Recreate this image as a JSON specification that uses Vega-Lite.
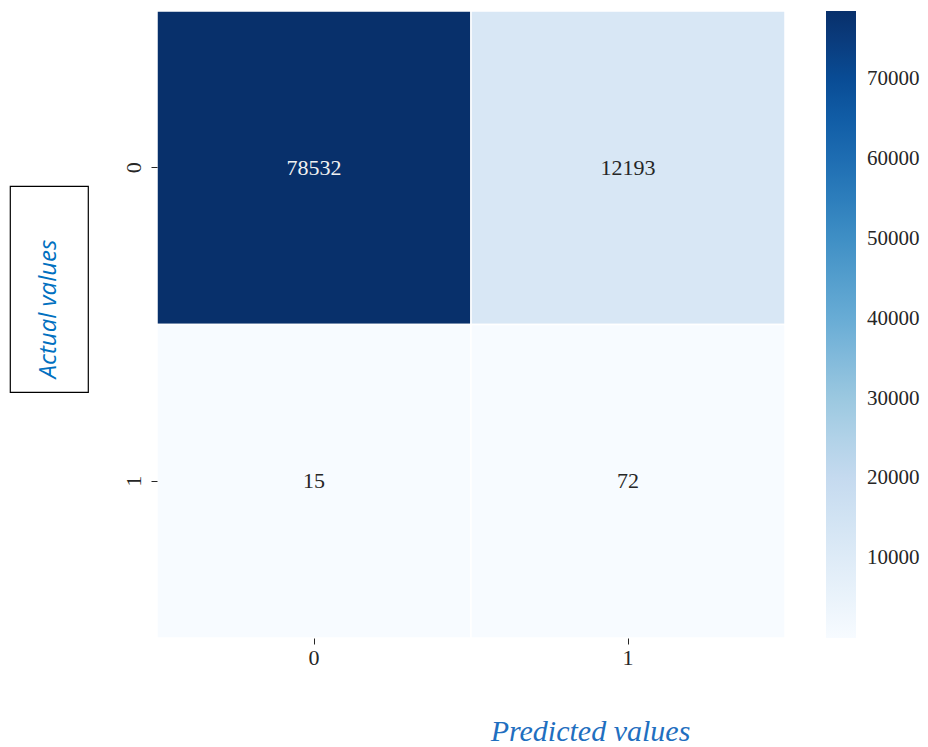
{
  "$schema": "https://vega.github.io/schema/vega-lite/v6.json",
  "padding": {"left": 9, "top": 10, "right": 0, "bottom": 0},
  "background": "#ffffff",
  "config": {
    "font": "Liberation Serif",
    "concat": {"spacing": 33}
  },
  "hconcat": [
    {
      "spacing": 0,
      "vconcat": [
        {
          "width": 78,
          "height": 174,
          "view": {"stroke": null},
          "data": {"values": [{"label": ""}]},
          "mark": {"type": "text"},
          "encoding": {"text": {"field": "label"}}
        },
        {
          "width": 78,
          "height": 206,
          "view": {"stroke": "#000000", "strokeWidth": 1.2},
          "data": {"values": [{"label": "Actual values"}]},
          "mark": {
            "type": "text",
            "angle": 270,
            "font": "Open Sans",
            "fontStyle": "italic",
            "fontSize": 24,
            "color": "#0070c0",
            "align": "center",
            "baseline": "middle",
            "dx": -20
          },
          "encoding": {"text": {"field": "label"}}
        }
      ]
    },
    {
      "width": 628,
      "height": 627,
      "view": {"stroke": null},
      "data": {
        "values": [
          {"actual": "0", "predicted": "0", "count": 78532},
          {"actual": "0", "predicted": "1", "count": 12193},
          {"actual": "1", "predicted": "0", "count": 15},
          {"actual": "1", "predicted": "1", "count": 72}
        ]
      },
      "encoding": {
        "x": {
          "field": "predicted",
          "type": "ordinal",
          "scale": {"paddingInner": 0, "paddingOuter": 0},
          "axis": {
            "title": "Predicted values",
            "titleFont": "Liberation Serif",
            "titleFontStyle": "italic",
            "titleFontWeight": "normal",
            "titleFontSize": 30,
            "titleColor": "#1f6fc0",
            "titleX": 433,
            "titleY": 102,
            "titleAlign": "center",
            "titleBaseline": "alphabetic",
            "labelAngle": 0,
            "labelFont": "Liberation Serif",
            "labelFontSize": 22,
            "labelColor": "#262626",
            "labelPadding": 3,
            "tickSize": 6,
            "tickColor": "#262626",
            "domain": false
          }
        },
        "y": {
          "field": "actual",
          "type": "ordinal",
          "scale": {"paddingInner": 0, "paddingOuter": 0},
          "axis": {
            "title": null,
            "labelAngle": 270,
            "labelFont": "Liberation Serif",
            "labelFontSize": 22,
            "labelColor": "#262626",
            "labelPadding": 6,
            "tickSize": 6,
            "tickColor": "#262626",
            "domain": false
          }
        }
      },
      "layer": [
        {
          "mark": {"type": "rect", "stroke": "#ffffff", "strokeWidth": 1.5},
          "encoding": {
            "color": {
              "field": "count",
              "type": "quantitative",
              "scale": {
                "domain": [15, 9829.6, 19644.3, 29458.9, 39273.5, 49088.1, 58902.8, 68717.4, 78532],
                "range": ["#f7fbff", "#deebf7", "#c6dbef", "#9ecae1", "#6baed6", "#4292c6", "#2171b5", "#08519c", "#08306b"]
              },
              "legend": {
                "title": null,
                "orient": "right",
                "direction": "vertical",
                "offset": 40,
                "padding": 0,
                "gradientLength": 627,
                "gradientThickness": 30,
                "gradientStrokeWidth": 0,
                "values": [10000, 20000, 30000, 40000, 50000, 60000, 70000],
                "format": "d",
                "labelFont": "Liberation Serif",
                "labelFontSize": 21,
                "labelColor": "#262626",
                "labelOffset": 11,
                "labelOverlap": false
              }
            }
          }
        },
        {
          "mark": {"type": "text", "font": "Liberation Serif", "fontSize": 22},
          "encoding": {
            "text": {"field": "count", "type": "quantitative", "format": "d"},
            "color": {
              "condition": {"test": "datum.count > 40000", "value": "#f2f2f2"},
              "value": "#262626"
            }
          }
        }
      ]
    }
  ]
}
